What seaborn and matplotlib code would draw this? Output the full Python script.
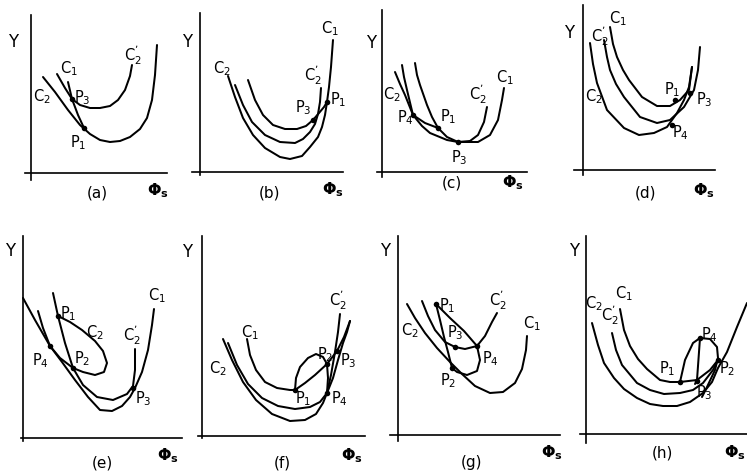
import matplotlib
matplotlib.use("Agg")
import matplotlib.pyplot as plt
import pandas as pd
import seaborn as sns

sns.set_style("white")
plt.rcParams["font.family"] = ["DejaVu Sans"]
plt.rcParams["mathtext.default"] = "regular"

# ---- curve data: (phi_s, gamma) in arbitrary schematic units ----
# (a)
a_c2 = [(12, 96), (24, 81), (37, 63), (49, 48), (59, 39), (69, 33), (79, 31), (89, 32),
        (99, 36), (109, 44), (116, 55), (121, 73), (124, 98), (126, 128)]
a_c2p = [(26, 99), (34, 85), (41, 74), (49, 68), (59, 65), (69, 65), (79, 67), (87, 73),
         (94, 83), (99, 97), (101, 108)]
a_c1 = [(37, 91), (41, 74), (47, 58), (53, 45)]
a_pts = [(41, 74), (53, 45)]

# (b)
b_c1 = [(48, 92), (55, 72), (63, 57), (73, 47), (85, 43), (97, 43), (106, 46), (113, 52),
        (119, 59), (124, 65), (127, 70), (129, 85), (131, 105), (133, 132)]
b_c2p = [(35, 87), (43, 67), (52, 50), (65, 37), (80, 30), (95, 29), (103, 33), (110, 40),
         (115, 48), (118, 58), (120, 70), (121, 84)]
b_c2 = [(28, 96), (35, 75), (43, 54), (53, 37), (65, 24), (80, 15), (90, 13), (102, 16),
        (110, 25), (118, 35), (122, 45), (125, 57), (127, 70)]
b_pts = [(113, 52), (127, 70)]

# (c)
c_c1 = [(13, 100), (18, 88), (23, 77), (31, 57), (40, 46), (48, 39), (65, 32), (76, 30),
        (96, 30), (108, 37), (116, 52), (120, 72), (122, 84)]
c_c2 = [(20, 107), (22, 95), (25, 82), (31, 57), (43, 49), (56, 44)]
c_c2p = [(33, 109), (35, 97), (38, 87), (45, 67), (50, 55), (56, 44), (65, 35), (76, 30),
         (88, 31), (96, 37), (102, 50), (105, 65)]
c_pts = [(31, 57), (56, 44), (76, 30)]

# (d)
d_c1 = [(27, 143), (30, 126), (34, 113), (40, 100), (46, 90), (59, 73), (74, 64), (87, 64),
        (97, 70), (106, 80), (109, 103)]
d_c2p = [(21, 130), (24, 113), (27, 100), (33, 86), (41, 73), (57, 53), (74, 47), (87, 50),
         (101, 63), (111, 80), (115, 100), (117, 123)]
d_c2 = [(7, 127), (10, 106), (14, 87), (24, 60), (41, 42), (56, 35), (71, 37), (84, 43),
        (94, 57), (101, 70), (106, 83), (109, 103)]
d_pts = [(92, 70), (107, 77), (89, 45)]

# (e)
e_c1 = [(0, 140), (12, 118), (27, 92), (39, 76), (52, 58), (65, 41), (77, 28), (89, 27),
        (99, 32), (107, 41), (112, 50), (119, 66), (125, 88), (129, 113), (131, 129)]
e_c2p = [(30, 145), (35, 122), (42, 95), (50, 70), (60, 53), (74, 41), (90, 38), (104, 44),
         (110, 52), (112, 68), (112, 89)]
e_c2 = [(15, 127), (20, 110), (27, 92), (37, 80), (50, 70), (60, 66), (72, 63), (81, 66),
        (84, 75), (80, 87), (72, 97), (59, 108), (47, 116), (35, 122)]
e_pts = [(35, 122), (50, 70), (110, 50), (27, 92)]

# (f)
f_c1 = [(45, 97), (48, 81), (54, 66), (63, 54), (75, 48), (88, 46), (93, 46), (103, 53),
        (113, 61), (125, 72), (135, 85), (142, 99), (148, 115)]
f_c2 = [(26, 93), (35, 71), (46, 52), (60, 38), (76, 30), (93, 27), (108, 29), (118, 34),
        (125, 43), (131, 58), (136, 76), (141, 93), (145, 104), (148, 115)]
f_c2p = [(21, 97), (30, 76), (41, 54), (54, 36), (70, 22), (88, 15), (103, 16), (114, 22),
         (121, 33), (125, 43), (129, 61), (133, 84), (136, 104), (138, 122)]
f_loop = [(93, 46), (94, 58), (98, 69), (106, 78), (114, 82), (121, 79), (125, 72),
          (126, 58), (125, 43)]
f_pts = [(93, 46), (125, 72), (135, 85), (125, 43)]

# (g)
g_c1 = [(9, 131), (17, 117), (27, 102), (39, 87), (52, 73), (64, 61), (77, 49), (92, 42),
        (105, 43), (117, 52), (124, 66), (128, 85), (129, 99)]
g_c2p = [(24, 134), (30, 119), (37, 105), (47, 93), (57, 88), (67, 86), (79, 89), (87, 99),
         (94, 113), (99, 122)]
g_p1p2 = [(38, 131), (42, 115), (46, 98), (50, 83), (54, 67)]
g_p1p4 = [(38, 131), (52, 117), (66, 104), (79, 89)]
g_loop = [(79, 89), (82, 75), (79, 64), (69, 60), (59, 63), (54, 67)]
g_pts = [(38, 131), (54, 67), (57, 88), (79, 89)]

# (h)
h_c2 = [(6, 111), (12, 89), (18, 71), (28, 56), (38, 45), (51, 36), (64, 30), (77, 28),
        (91, 28), (104, 32), (117, 41), (126, 52), (132, 66), (141, 82), (151, 107),
        (161, 131)]
h_c2p = [(26, 101), (30, 84), (36, 69), (51, 51), (64, 44), (78, 40), (94, 41), (107, 44),
         (117, 51), (127, 64), (132, 74)]
h_c1 = [(34, 125), (38, 104), (44, 88), (52, 75), (61, 65), (74, 54), (84, 52), (94, 52),
        (111, 54), (124, 64), (132, 74)]
h_loop = [(94, 52), (99, 74), (107, 91), (114, 96), (124, 95), (131, 87), (132, 76),
          (129, 64), (121, 47), (116, 37)]
h_p4p3 = [(114, 96), (111, 54), (109, 50)]
h_pts = [(94, 52), (132, 74), (111, 53), (114, 96)]

C1, C2, C2P = "C$_1$", "C$_2$", r"C$_2^{\mathregular{’}}$"
P1, P2, P3, P4 = "P$_1$", "P$_2$", "P$_3$", "P$_4$"
PHI = "Φ$_s$"

# ---- panel layout: origin in figure pixels, axis extents in data units ----
W, H = 747, 472
panels = [
    dict(tag="(a)", origin=(31, 173), xlim=(-6, 136), ylim=(-7, 158),
         curves=[a_c2, a_c2p, a_c1], pts=a_pts,
         labels=[("Y", -18, 131), (C2P, 102, 117), (C1, 38, 104), (C2, 11, 76),
                 (P3, 51, 75), (P1, 47, 30)], tagpos=(66, -20), phipos=(127, -18)),
    dict(tag="(b)", origin=(200, 172), xlim=(-8, 143), ylim=(-3, 159),
         curves=[b_c1, b_c2p, b_c2], pts=b_pts,
         labels=[("Y", -13, 130), (C2, 22, 103), (C1, 130, 143), (C2P, 113, 96),
                 (P3, 103, 64), (P1, 138, 72)], tagpos=(70, -21), phipos=(133, -18)),
    dict(tag="(c)", origin=(382, 172), xlim=(-5, 145), ylim=(-5, 162),
         curves=[c_c1, c_c2, c_c2p], pts=c_pts,
         labels=[("Y", -11, 129), (C2, 10, 77), (P4, 23, 54), (P1, 66, 55),
                 (C2P, 96, 77), (C1, 123, 94), (P3, 77, 14)], tagpos=(70, -11),
         phipos=(131, -11)),
    dict(tag="(d)", origin=(583, 170), xlim=(-9, 132), ylim=(-5, 165),
         curves=[d_c1, d_c2p, d_c2], pts=d_pts,
         labels=[("Y", -14, 137), (C1, 35, 151), (C2P, 17, 133), (C2, 11, 73),
                 (P1, 89, 80), (P3, 121, 70), (P4, 97, 37)], tagpos=(62, -23),
         phipos=(121, -21)),
    dict(tag="(e)", origin=(23, 438), xlim=(-2, 159), ylim=(-3, 202),
         curves=[e_c1, e_c2p, e_c2], pts=e_pts,
         labels=[("Y", -13, 187), (P1, 45, 124), (C2, 72, 105), (C1, 134, 142),
                 (C2P, 109, 102), (P4, 17, 77), (P2, 59, 79), (P3, 120, 39)],
         tagpos=(79, -25), phipos=(145, -18)),
    dict(tag="(f)", origin=(202, 436), xlim=(-4, 163), ylim=(-2, 200),
         curves=[f_c1, f_c2, f_c2p, f_loop], pts=f_pts,
         labels=[("Y", -15, 184), (C1, 48, 103), (C2, 16, 67), (C2P, 136, 135),
                 (P2, 123, 81), (P3, 146, 75), (P1, 101, 37), (P4, 137, 37)],
         tagpos=(80, -27), phipos=(150, -20)),
    dict(tag="(g)", origin=(398, 435), xlim=(-8, 162), ylim=(-6, 199),
         curves=[g_c1, g_c2p, g_p1p2, g_p1p4, g_loop], pts=g_pts,
         labels=[("Y", -13, 184), (P1, 49, 129), (C2P, 100, 134), (C1, 134, 111),
                 (C2, 12, 104), (P3, 57, 102), (P4, 92, 76), (P2, 50, 54)],
         tagpos=(74, -28), phipos=(154, -18)),
    dict(tag="(h)", origin=(586, 434), xlim=(-6, 161), ylim=(-9, 198),
         curves=[h_c2, h_c2p, h_c1, h_loop, h_p4p3], pts=h_pts,
         labels=[("Y", -12, 183), (C1, 38, 140), (C2, 8, 130), (C2P, 24, 118),
                 (P4, 123, 99), (P1, 81, 65), (P2, 141, 65), (P3, 118, 41)],
         tagpos=(76, -19), phipos=(149, -19)),
]

fig = plt.figure(figsize=(W / 100, H / 100), dpi=100)
fig.patch.set_facecolor("white")

LW = 1.45
for p in panels:
    x0, y0 = p["origin"]
    (xa, xb), (ya, yb) = p["xlim"], p["ylim"]
    rect = [(x0 + xa) / W, 1 - (y0 - ya) / H, (xb - xa) / W, (yb - ya) / H]
    ax = fig.add_axes(rect)
    ax.set_xlim(xa, xb)
    ax.set_ylim(ya, yb)
    ax.patch.set_alpha(0)

    for crv in p["curves"]:
        df = pd.DataFrame(crv, columns=["phi", "gamma"])
        sns.lineplot(data=df, x="phi", y="gamma", sort=False, estimator=None,
                     color="black", lw=LW, ax=ax, solid_joinstyle="round",
                     solid_capstyle="round", clip_on=False)
    dots = pd.DataFrame(p["pts"], columns=["phi", "gamma"])
    sns.scatterplot(data=dots, x="phi", y="gamma", color="black", s=16,
                    linewidth=0, ax=ax, zorder=4, clip_on=False)

    for side in ("top", "right"):
        ax.spines[side].set_visible(False)
    ax.spines["left"].set_position(("data", 0))
    ax.spines["bottom"].set_position(("data", 0))
    for side in ("left", "bottom"):
        ax.spines[side].set_color("black")
        ax.spines[side].set_linewidth(1.2)
    ax.set_xticks([])
    ax.set_yticks([])
    ax.set_xlabel("")
    ax.set_ylabel("")

    for txt, tx, ty in p["labels"]:
        size = 12 if txt == "Y" else 10.5
        ax.text(tx, ty, txt, fontsize=size, ha="center", va="center",
                color="black", clip_on=False)
    ax.text(*p["tagpos"], p["tag"], fontsize=11, ha="center", va="center",
            color="black", clip_on=False)
    ax.text(*p["phipos"], PHI, fontsize=11.5, ha="center", va="center",
            color="black", fontweight="bold", clip_on=False)

fig.savefig("out.png", dpi=100, facecolor="white")
